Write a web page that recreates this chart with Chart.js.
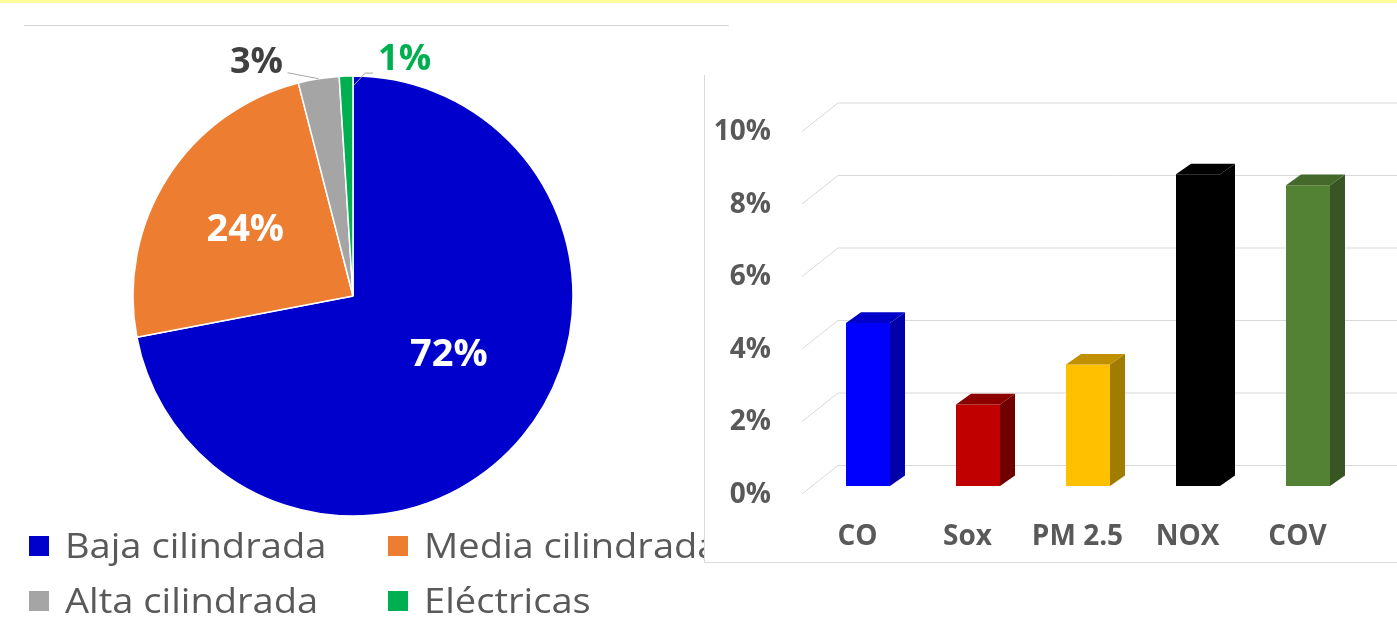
<!DOCTYPE html>
<html>
<head>
<meta charset="utf-8">
<script src="https://cdn.jsdelivr.net/npm/chart.js@4.4.1/dist/chart.umd.min.js"></script>
<style>
  html, body { margin: 0; padding: 0; background: #fff; overflow: hidden; }
  #stage { position: relative; width: 1397px; height: 622px; }
  #topBand { position: absolute; left: 0; top: 0; width: 1397px; height: 3px; background: #FFFF99; }
  #rule { position: absolute; left: 24px; top: 25px; width: 705px; height: 1px; background: #D4D4D4; }
  #pieBox { position: absolute; left: 0; top: 0; width: 704px; height: 622px; }
  #barBox { position: absolute; left: 704px; top: 75px; width: 693px; height: 488px; box-sizing: border-box;
            border-left: 1px solid #D9D9D9; border-bottom: 1px solid #D9D9D9; background: #fff; }
  #barBox canvas, #pieBox canvas { position: absolute; left: 0; top: 0; }
</style>
</head>
<body>
<div id="stage">
  <div id="topBand"></div>
  <div id="rule"></div>
  <div id="pieBox"><canvas id="pieChart" width="704" height="622"></canvas></div>
  <div id="barBox"><canvas id="barChart" width="692" height="487"></canvas></div>
</div>
<script>
// Motorcycle fleet by engine size (percent of units)
const segmentNames = ['Baja cilindrada', 'Media cilindrada', 'Alta cilindrada', 'Eléctricas'];
const segmentShares = [72, 24, 3, 1];
const segmentColors = ['#0000CC', '#ED7D31', '#A5A5A5', '#00B050'];

// Share of emissions by pollutant (percent)
const pollutants = ['CO', 'Sox', 'PM 2.5', 'NOX', 'COV'];
const emissionShare = [4.5, 2.25, 3.35, 8.6, 8.3];
const yTicks = [0, 2, 4, 6, 8, 10];
const frontColors = ['#0000FF', '#C00000', '#FFC000', '#000000', '#548235'];
const topColors   = ['#0000C8', '#8C0000', '#C09000', '#000000', '#44692A'];
const sideColors  = ['#0000A8', '#700000', '#A07C00', '#000000', '#375623'];

const FONT = '"Open Sans", "Noto Sans", sans-serif';
const TEXT_GREY = '#595959';

// Text centred vertically on its cap height
function capText(ctx, text, x, cy, align, color, size, weight) {
  ctx.save();
  ctx.font = `${weight} ${size}px ${FONT}`;
  ctx.fillStyle = color;
  ctx.textAlign = align;
  ctx.textBaseline = 'alphabetic';
  ctx.fillText(text, x, cy + size * 0.357);
  ctx.restore();
}

// Where each slice's percentage goes
const labelPlacement = [
  { inside: true, frac: 0.505, turn: -9.3 },
  { inside: true, frac: 0.58, turn: 0 },
  { inside: false, leader: [[0, 0], [-31, -6]], text: [-35.6, -18.7], align: 'right', color: '#404040' },
  { inside: false, leader: [[8, 9], [19, -3], [27, -3]], text: [32, -19], align: 'left', color: '#00B050' }
];

const pieLabels = {
  id: 'pieLabels',
  afterDatasetsDraw(chart) {
    const ctx = chart.ctx;
    chart.getDatasetMeta(0).data.forEach((arc, i) => {
      const { x, y, startAngle, endAngle, outerRadius } =
        arc.getProps(['x', 'y', 'startAngle', 'endAngle', 'outerRadius'], true);
      const mid = (startAngle + endAngle) / 2;
      const text = segmentShares[i] + '%';
      const p = labelPlacement[i];
      if (p.inside) {
        const a = mid + p.turn * Math.PI / 180;
        const d = outerRadius * p.frac;
        capText(ctx, text, x + Math.cos(a) * d, y + Math.sin(a) * d, 'center', '#FFFFFF', 38, 'bold');
      } else {
        const ex = x + Math.cos(mid) * outerRadius;
        const ey = y + Math.sin(mid) * outerRadius;
        ctx.save();
        ctx.strokeStyle = '#A6A6A6';
        ctx.lineWidth = 1;
        ctx.beginPath();
        p.leader.forEach(([dx, dy], k) => k ? ctx.lineTo(ex + dx, ey + dy) : ctx.moveTo(ex + dx, ey + dy));
        ctx.stroke();
        ctx.restore();
        capText(ctx, text, ex + p.text[0], ey + p.text[1], p.align, p.color, 36, 'bold');
      }
    });
  }
};

// Two-column legend under the pie
const pieLegend = {
  id: 'pieLegend',
  afterDraw(chart) {
    const ctx = chart.ctx;
    const ds = chart.data.datasets[0];
    const cols = [29, 388];
    const rows = [546, 601];
    chart.data.labels.forEach((name, i) => {
      const x = cols[i % 2];
      const cy = rows[Math.floor(i / 2)];
      ctx.save();
      ctx.fillStyle = ds.backgroundColor[i];
      ctx.fillRect(x, cy - 10, 20, 20);
      ctx.font = `34px ${FONT}`;
      ctx.fillStyle = TEXT_GREY;
      ctx.textBaseline = 'alphabetic';
      ctx.translate(x + 36, cy + 34 * 0.357);
      ctx.scale(1.12, 1);
      ctx.fillText(name, 0, 0);
      ctx.restore();
    });
  }
};

new Chart(document.getElementById('pieChart'), {
  type: 'pie',
  data: {
    labels: segmentNames,
    datasets: [{
      data: segmentShares,
      backgroundColor: segmentColors,
      borderColor: '#FFFFFF',
      borderWidth: 1.5,
      radius: 220
    }]
  },
  options: {
    responsive: false,
    animation: false,
    layout: { padding: { left: 2, right: 0, top: 0, bottom: 30 } },
    plugins: { legend: { display: false }, tooltip: { enabled: false } }
  },
  plugins: [pieLabels, pieLegend]
});

// Floor-to-wall grid lines of the 3-D frame
const DEPTH = { dx: 15, dy: -10.6 };
const wallGrid = {
  id: 'wallGrid',
  beforeDatasetsDraw(chart) {
    const ctx = chart.ctx;
    const ys = chart.scales.y;
    const area = chart.chartArea;
    ctx.save();
    ctx.strokeStyle = '#D9D9D9';
    ctx.lineWidth = 1;
    ys.ticks.forEach(t => {
      const py = ys.getPixelForValue(t.value);
      ctx.beginPath();
      ctx.moveTo(area.left - 11, py + 8);
      ctx.lineTo(area.left + 25, py - 20.5);
      ctx.lineTo(chart.width, py - 20.5);
      ctx.stroke();
    });
    ctx.restore();
  }
};

// Top and side faces of each column
const columnFaces = {
  id: 'columnFaces',
  afterDatasetsDraw(chart) {
    const ctx = chart.ctx;
    chart.getDatasetMeta(0).data.forEach((bar, i) => {
      const { x, y, base, width } = bar.getProps(['x', 'y', 'base', 'width'], true);
      const l = x - width / 2, r = x + width / 2;
      const { dx, dy } = DEPTH;
      ctx.save();
      ctx.fillStyle = sideColors[i];
      ctx.beginPath();
      ctx.moveTo(r, y); ctx.lineTo(r + dx, y + dy); ctx.lineTo(r + dx, base + dy); ctx.lineTo(r, base);
      ctx.closePath(); ctx.fill();
      ctx.fillStyle = topColors[i];
      ctx.beginPath();
      ctx.moveTo(l, y); ctx.lineTo(l + dx, y + dy); ctx.lineTo(r + dx, y + dy); ctx.lineTo(r, y);
      ctx.closePath(); ctx.fill();
      ctx.restore();
    });
  }
};

new Chart(document.getElementById('barChart'), {
  type: 'bar',
  data: {
    labels: pollutants,
    datasets: [{
      data: emissionShare,
      backgroundColor: frontColors,
      borderWidth: 0,
      barPercentage: 0.4,
      categoryPercentage: 1
    }]
  },
  options: {
    responsive: false,
    animation: false,
    layout: { padding: { left: 0, right: 34, top: 48.5, bottom: 0 } },
    plugins: { legend: { display: false }, tooltip: { enabled: false } },
    scales: {
      x: {
        grid: { display: false, drawTicks: false },
        border: { display: false },
        ticks: {
          font: { family: FONT, size: 28, weight: 'bold' },
          color: TEXT_GREY,
          padding: 34,
          labelOffset: -10.5
        },
        afterFit(s) { s.height = 76; }
      },
      y: {
        min: 0,
        max: 10,
        afterBuildTicks(s) { s.ticks = yTicks.map(v => ({ value: v })); },
        grid: { display: false, drawTicks: false },
        border: { display: false },
        ticks: {
          callback: v => v + '%',
          font: { family: FONT, size: 28, weight: 'bold' },
          color: TEXT_GREY,
          padding: 42,
          labelOffset: 9
        },
        afterFit(s) { s.width = 108; s.paddingTop = 0; s.paddingBottom = 0; }
      }
    }
  },
  plugins: [wallGrid, columnFaces]
});
</script>
</body>
</html>
